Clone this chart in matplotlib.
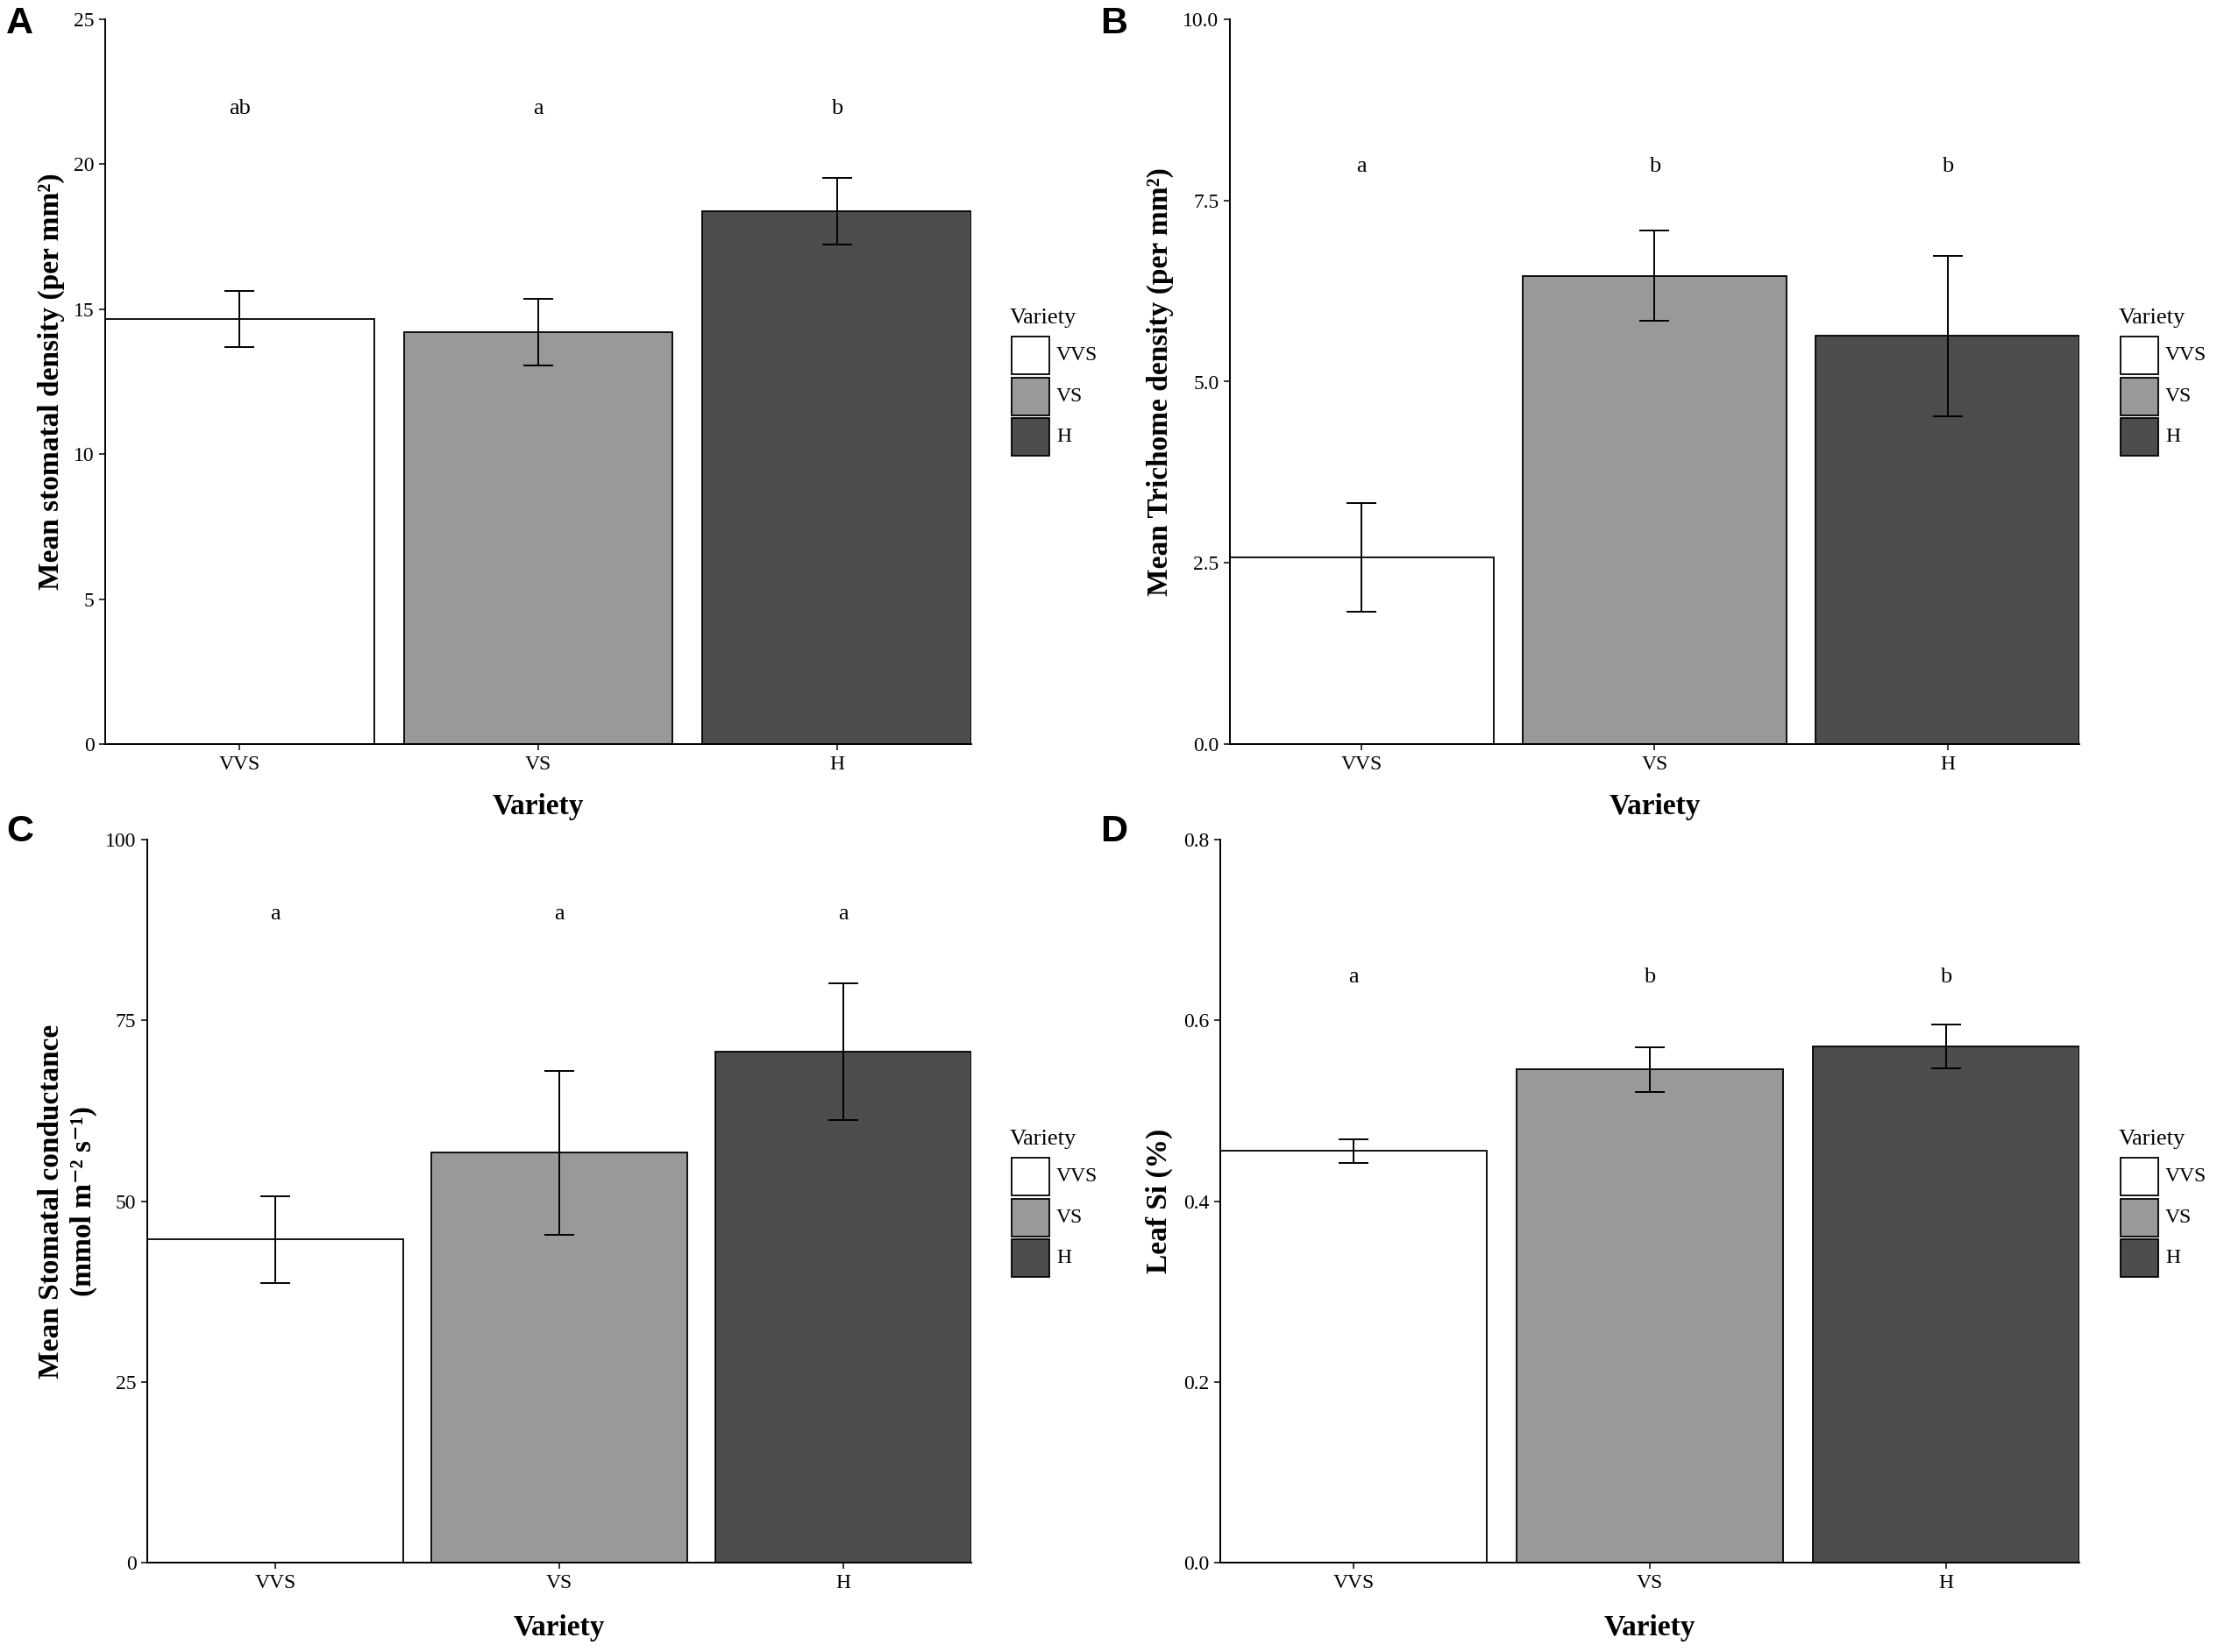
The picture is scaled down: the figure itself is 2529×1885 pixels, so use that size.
import matplotlib
matplotlib.use("Agg")
import matplotlib.pyplot as plt
from matplotlib.patches import Rectangle

# ---------------- data ----------------
varieties = ["VVS", "VS", "H"]
bar_colors = ["#FFFFFF", "#999999", "#4D4D4D"]

stomatal_density = [14.66, 14.22, 18.38]
stomatal_density_se = [0.98, 1.15, 1.15]
stomatal_letters = ["ab", "a", "b"]

trichome_density = [2.57, 6.46, 5.63]
trichome_density_se = [0.75, 0.62, 1.11]
trichome_letters = ["a", "b", "b"]

stomatal_conductance = [44.7, 56.7, 70.7]
stomatal_conductance_se = [6.0, 11.35, 9.45]
conductance_letters = ["a", "a", "a"]

leaf_si = [0.4553, 0.5456, 0.5712]
leaf_si_se = [0.0128, 0.0247, 0.0245]
leaf_si_letters = ["a", "b", "b"]

W, H = 2529, 1885
DPI = 100
SERIF = ["Liberation Serif", "DejaVu Serif"]

fig = plt.figure(figsize=(W / DPI, H / DPI), dpi=DPI, facecolor="white")


def fx(px):
    return px / W


def fy(px):
    return 1 - px / H


panels = [
    dict(letter="A", box=(120, 22, 1108, 849), vals=stomatal_density, se=stomatal_density_se,
         letters=stomatal_letters, ly=22, ymax=25, ticks=[0, 5, 10, 15, 20, 25], fmt="{:g}",
         ylabel="Mean stomatal density (per mm²)", ylab_dx=-62, xlab_dy=71,
         tag=(7, 38), leg=(1154, 384)),
    dict(letter="B", box=(1403, 22, 2372, 849), vals=trichome_density, se=trichome_density_se,
         letters=trichome_letters, ly=8, ymax=10, ticks=[0, 2.5, 5, 7.5, 10], fmt="{:.1f}",
         ylabel="Mean Trichome density (per mm²)", ylab_dx=-80, xlab_dy=71,
         tag=(1255, 38), leg=(2419, 384)),
    dict(letter="C", box=(168, 958, 1108, 1783), vals=stomatal_conductance, se=stomatal_conductance_se,
         letters=conductance_letters, ly=90, ymax=100, ticks=[0, 25, 50, 75, 100], fmt="{:g}",
         ylabel="Mean Stomatal conductance\n(mmol m⁻² s⁻¹)", ylab_dx=-91, xlab_dy=74,
         tag=(7, 960), leg=(1154, 1321)),
    dict(letter="D", box=(1392, 958, 2372, 1783), vals=leaf_si, se=leaf_si_se,
         letters=leaf_si_letters, ly=0.65, ymax=0.8, ticks=[0, 0.2, 0.4, 0.6, 0.8], fmt="{:.1f}",
         ylabel="Leaf Si (%)", ylab_dx=-70, xlab_dy=74,
         tag=(1255, 960), leg=(2419, 1321)),
]

for p in panels:
    l, t, r, b = p["box"]
    ax = fig.add_axes([fx(l), fy(b), fx(r) - fx(l), (b - t) / H])
    x = list(range(len(varieties)))
    ax.bar(x, p["vals"], width=0.9, color=bar_colors, edgecolor="black", linewidth=1.3, zorder=2)
    ax.errorbar(x, p["vals"], yerr=p["se"], fmt="none", ecolor="black", elinewidth=1.4,
                capsize=12.5, capthick=1.4, zorder=3)
    for xi, lab in zip(x, p["letters"]):
        ax.text(xi, p["ly"], lab, ha="center", va="center_baseline", fontsize=19, family=SERIF)
    ax.set_xlim(-0.45, 2.45)
    ax.set_ylim(0, p["ymax"])
    ax.set_xticks(x)
    ax.set_xticklabels(varieties, family=SERIF)
    ax.set_yticks(p["ticks"])
    ax.set_yticklabels([p["fmt"].format(v) for v in p["ticks"]], family=SERIF)
    for s in ["top", "right"]:
        ax.spines[s].set_visible(False)
    for s in ["left", "bottom"]:
        ax.spines[s].set_linewidth(1.4)
    ax.tick_params(axis="both", direction="out", length=5, width=1.1, labelsize=17, pad=4)
    aw = r - l
    ah = b - t
    ax.set_xlabel("Variety", fontsize=24, fontweight="bold", family=SERIF, va="center")
    ax.xaxis.set_label_coords(0.5, -p["xlab_dy"] / ah)
    ax.set_ylabel(p["ylabel"], fontsize=24, fontweight="bold", family=SERIF, va="center",
                  multialignment="center", linespacing=1.2)
    ax.yaxis.set_label_coords(p["ylab_dx"] / aw, 0.5)

    # panel tag
    fig.text(fx(p["tag"][0]), fy(p["tag"][1]), p["letter"], fontsize=31, fontweight="bold",
             family=["Liberation Sans", "DejaVu Sans"], ha="left", va="baseline")

    # legend (manual, ggplot style)
    kx, ky = p["leg"]
    fig.text(fx(kx - 2), fy(ky - 15), "Variety", fontsize=19, family=SERIF, ha="left", va="baseline")
    ks = 43
    step = 46.5
    for i, (name, col) in enumerate(zip(varieties, bar_colors)):
        top = ky + i * step
        fig.add_artist(Rectangle((fx(kx), fy(top + ks)), ks / W, ks / H, transform=fig.transFigure,
                                 facecolor=col, edgecolor="black", linewidth=1.3))
        fig.text(fx(kx + ks + 8), fy(top + ks / 2), name, fontsize=17, family=SERIF,
                 ha="left", va="center")

fig.savefig("out.png", dpi=DPI, facecolor="white")
